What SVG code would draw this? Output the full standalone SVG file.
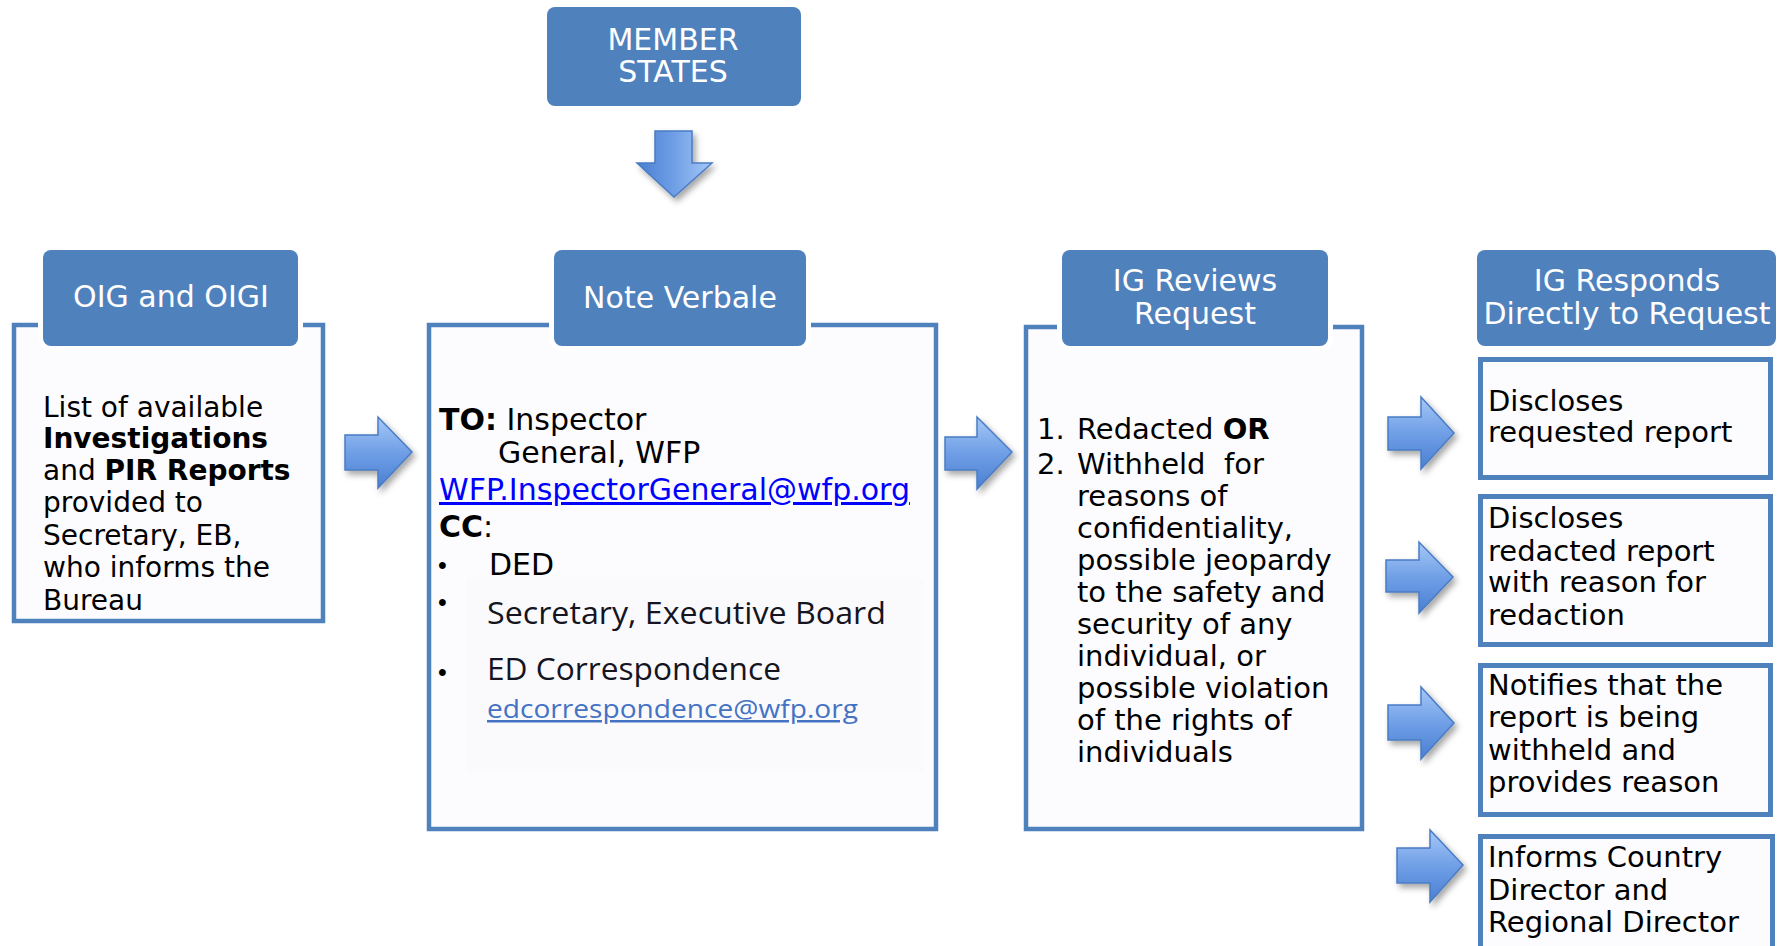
<svg xmlns="http://www.w3.org/2000/svg" width="1780" height="946" viewBox="0 0 1780 946">
<style>
.tab{fill:#4f81bd;stroke:#ffffff;stroke-width:10;paint-order:stroke fill}
.frame{fill:#fcfcff;stroke:#4f81bd;stroke-width:4.5}
.rbox{fill:#fcfcff;stroke:#4f81bd;stroke-width:5}
.hd{font-family:'DejaVu Sans',Verdana,sans-serif;font-size:30px;fill:#ffffff;text-anchor:middle}
.bd{font-family:'DejaVu Sans',Verdana,sans-serif;font-size:28px;fill:#000000}
.bd29{font-family:'DejaVu Sans',Verdana,sans-serif;font-size:29px;fill:#000000}
.nv{font-family:'DejaVu Sans',Verdana,sans-serif;font-size:30px;fill:#000000}
.cal{font-family:'Open Sans','Noto Sans',sans-serif;fill:#151522}
.bul{font-family:'Liberation Sans',Arial,sans-serif;font-size:25px;fill:#000000}
.b{font-weight:bold}
.arr{fill:url(#gRight);stroke:#4a7cc4;stroke-width:1.5;filter:url(#sh)}
</style>
<defs>
<linearGradient id="gRight" x1="0" y1="0" x2="0" y2="1">
<stop offset="0" stop-color="#a6c8f7"/>
<stop offset="0.5" stop-color="#709fe6"/>
<stop offset="1" stop-color="#4a7fd2"/>
</linearGradient>
<linearGradient id="gDown" x1="0" y1="0" x2="1" y2="0">
<stop offset="0" stop-color="#4a7fd2"/>
<stop offset="0.5" stop-color="#709fe6"/>
<stop offset="1" stop-color="#a6c8f7"/>
</linearGradient>
<filter id="sh" x="-30%" y="-30%" width="160%" height="160%">
<feDropShadow dx="3" dy="4" stdDeviation="3" flood-color="#000000" flood-opacity="0.35"/>
</filter>
</defs>
<rect width="1780" height="946" fill="#ffffff"/>

<g id="node-member-states">
<rect class="tab" x="547" y="7" width="254" height="99" rx="8"/>
<text class="hd" x="673" y="50">MEMBER</text>
<text class="hd" x="673" y="82">STATES</text>
</g>

<g id="node-oig">
<rect class="frame" x="14" y="325" width="309" height="296"/>
<rect class="tab" x="43" y="250" width="255" height="96" rx="8"/>
<text class="hd" x="171" y="307">OIG and OIGI</text>
<text class="bd" x="43" y="417">List of available</text>
<text class="bd b" x="43" y="448">Investigations</text>
<text class="bd" x="43" y="480">and <tspan class="b">PIR Reports</tspan></text>
<text class="bd" x="43" y="512">provided to</text>
<text class="bd" x="43" y="545">Secretary, EB,</text>
<text class="bd" x="43" y="577">who informs the</text>
<text class="bd" x="43" y="610">Bureau</text>
</g>

<g id="node-note-verbale">
<rect class="frame" x="429" y="325" width="507" height="504"/>
<rect x="466" y="579" width="458" height="193" fill="#fafafd"/>
<rect class="tab" x="554" y="250" width="252" height="96" rx="8"/>
<text class="hd" x="680" y="308">Note Verbale</text>
<text class="nv" x="439" y="430"><tspan class="b">TO:</tspan> Inspector</text>
<text class="nv" x="498" y="463">General, WFP</text>
<text class="nv" x="439" y="500" style="fill:#0000ff" text-decoration="underline">WFP.InspectorGeneral@wfp.org</text>
<text class="nv" x="439" y="537"><tspan class="b">CC</tspan>:</text>
<text class="bul" x="438" y="574">•</text>
<text class="nv" x="489" y="575">DED</text>
<text class="bul" x="438" y="611">•</text>
<text class="cal" x="487" y="624" font-size="31" textLength="399" lengthAdjust="spacingAndGlyphs">Secretary, Executive Board</text>
<text class="bul" x="438" y="681">•</text>
<text class="cal" x="487" y="680" font-size="31" textLength="294" lengthAdjust="spacingAndGlyphs">ED Correspondence</text>
<text class="cal" x="487" y="718" font-size="25" style="fill:#4472c4" text-decoration="underline" textLength="371" lengthAdjust="spacingAndGlyphs">edcorrespondence@wfp.org</text>
</g>

<g id="node-ig-reviews">
<rect class="frame" x="1026" y="327" width="336" height="502"/>
<rect class="tab" x="1062" y="250" width="266" height="96" rx="8"/>
<text class="hd" x="1195" y="291">IG Reviews</text>
<text class="hd" x="1195" y="324">Request</text>
<text class="bd29" x="1037" y="439">1.</text>
<text class="bd29" x="1077" y="439">Redacted <tspan class="b">OR</tspan></text>
<text class="bd29" x="1037" y="474">2.</text>
<text class="bd29" x="1077" y="474" xml:space="preserve">Withheld  for</text>
<text class="bd29" x="1077" y="506">reasons of</text>
<text class="bd29" x="1077" y="538">confidentiality,</text>
<text class="bd29" x="1077" y="570">possible jeopardy</text>
<text class="bd29" x="1077" y="602">to the safety and</text>
<text class="bd29" x="1077" y="634">security of any</text>
<text class="bd29" x="1077" y="666">individual, or</text>
<text class="bd29" x="1077" y="698">possible violation</text>
<text class="bd29" x="1077" y="730">of the rights of</text>
<text class="bd29" x="1077" y="762">individuals</text>
</g>

<g id="node-ig-responds">
<rect class="tab" x="1477" y="250" width="299" height="96" rx="8"/>
<text class="hd" x="1627" y="291">IG Responds</text>
<text class="hd" x="1627" y="324">Directly to Request</text>
</g>

<g id="node-discloses">
<rect class="rbox" x="1480.5" y="359.5" width="290" height="118"/>
<text class="bd29" x="1488" y="411">Discloses</text>
<text class="bd29" x="1488" y="442">requested report</text>
</g>

<g id="node-discloses-redacted">
<rect class="rbox" x="1480.5" y="496.5" width="290" height="148"/>
<text class="bd29" x="1488" y="528">Discloses</text>
<text class="bd29" x="1488" y="561">redacted report</text>
<text class="bd29" x="1488" y="592">with reason for</text>
<text class="bd29" x="1488" y="625">redaction</text>
</g>

<g id="node-notifies">
<rect class="rbox" x="1480.5" y="665.5" width="290" height="149"/>
<text class="bd29" x="1488" y="695">Notifies that the</text>
<text class="bd29" x="1488" y="727">report is being</text>
<text class="bd29" x="1488" y="760">withheld and</text>
<text class="bd29" x="1488" y="792">provides reason</text>
</g>

<g id="node-informs">
<rect class="rbox" x="1480.5" y="836.5" width="292" height="130"/>
<text class="bd29" x="1488" y="867">Informs Country</text>
<text class="bd29" x="1488" y="900">Director and</text>
<text class="bd29" x="1488" y="932">Regional Director</text>
</g>

<g id="connectors">
<path d="M655 131 L692 131 L692 163 L712 163 L674 197 L637 163 L655 163 Z" fill="url(#gDown)" stroke="#4a7cc4" stroke-width="1.5" filter="url(#sh)"/>
<path class="arr" d="M345 435 L378 435 L378 417 L412 452 L378 488 L378 470 L345 470 Z"/>
<path class="arr" d="M945 437 L977 437 L977 417 L1012 452 L977 489 L977 470 L945 470 Z"/>
<path class="arr" d="M1388 417 L1421 417 L1421 397 L1454 433 L1421 469 L1421 450 L1388 450 Z"/>
<path class="arr" d="M1386 560 L1419 560 L1419 542 L1453 577 L1419 613 L1419 592 L1386 592 Z"/>
<path class="arr" d="M1388 705 L1421 705 L1421 687 L1454 723 L1421 759 L1421 740 L1388 740 Z"/>
<path class="arr" d="M1397 848 L1430 848 L1430 830 L1463 865 L1430 902 L1430 883 L1397 883 Z"/>
</g>
</svg>
